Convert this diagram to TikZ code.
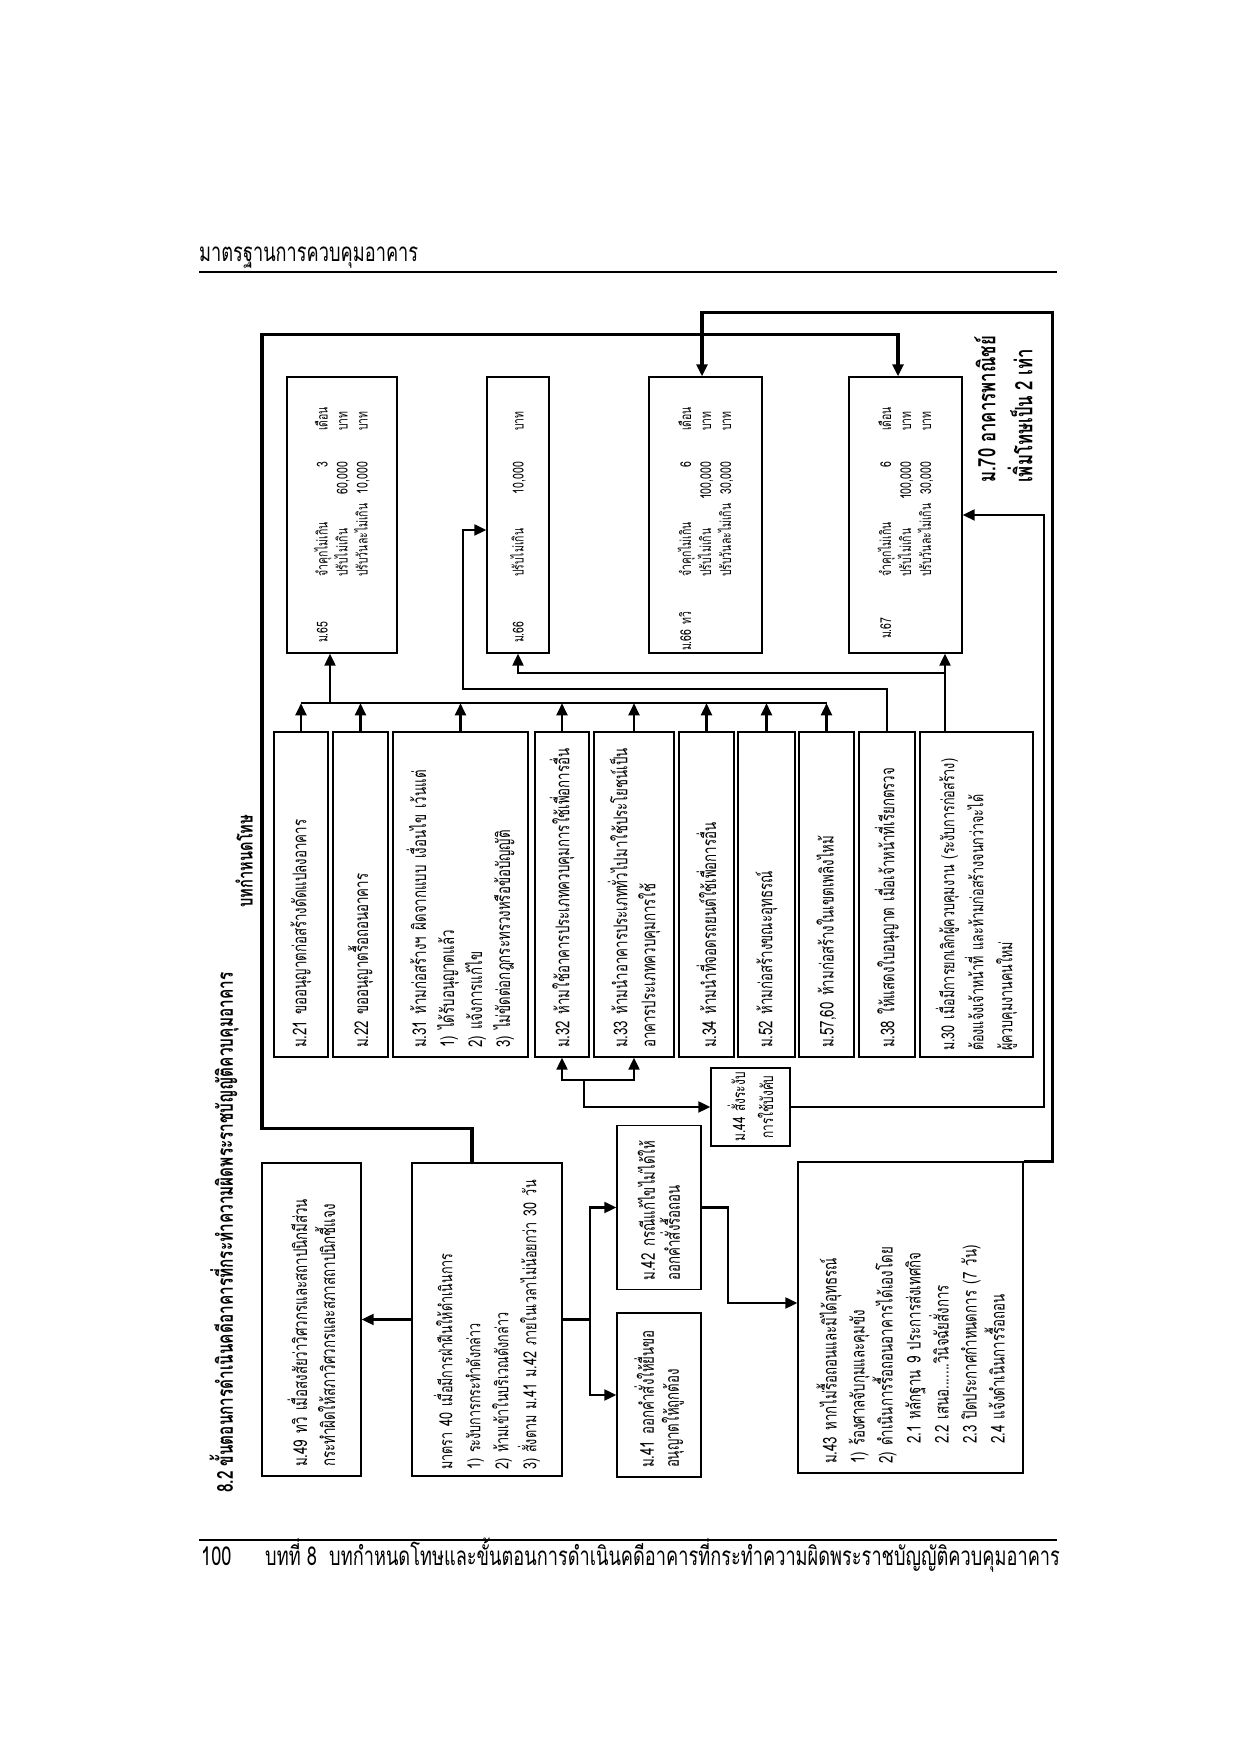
\documentclass[tikz,border=0pt]{standalone}
\usepackage{fontspec}
\setmainfont{Loma}[Script=Thai,FakeStretch=0.7]
\usetikzlibrary{arrows.meta,calc}

\newcommand{\boxfont}{\fontsize{19}{28}\selectfont}
\newcommand{\penfont}{\fontsize{15}{20}\selectfont}
\newcommand{\pagefont}{\fontsize{26}{30}\selectfont}
\newdimen\pcS \newdimen\pcA \newdimen\pcB \newdimen\pcC
\newcommand{\pencols}[4]{\noindent\pcS=#1pt\pcA=#2pt\pcB=#3pt\pcC=#4pt\relax}
\newcommand{\penrow}[4]{\hspace*{\pcS}\rlap{#1}\hspace*{\dimexpr\pcA-\pcS\relax}\rlap{#2}%
  \hspace*{\dimexpr\pcB-\pcA\relax}\llap{#3}\hspace*{\dimexpr\pcC-\pcB\relax}#4}

\begin{document}
\begin{tikzpicture}[x=1pt,y=1pt,
  box/.style={draw,line width=1.4pt,inner xsep=9pt,inner ysep=0pt,align=left,font=\boxfont},
  viol/.style={box,text width=307pt},
  pen/.style={box,inner xsep=2pt,text width=272pt,font=\penfont},
  arr/.style={line width=2.2pt,-{Triangle[length=12pt,width=11pt]}},
  link/.style={line width=2.2pt},
  frame/.style={line width=3.2pt}]
\useasboundingbox (0,0) rectangle (1240,1754);
\fill[white] (0,0) rectangle (1240,1754);

% page head and foot
\node[anchor=base west,inner sep=0,font=\pagefont] (hdr) at (199,1492) {มาตรฐานการควบคุมอาคาร};
\draw[line width=2.5pt] (199,1482) -- (1057,1482);
\draw[line width=2.5pt] (199,214) -- (1057,214);
\node[anchor=base west,inner sep=0,font=\pagefont] (pgno) at (201,188) {100};
\node[anchor=base west,inner sep=0,font=\pagefont] (foot) at (265,188) {บทที่ 8~~บทกำหนดโทษและขั้นตอนการดำเนินคดีอาคารที่กระทำความผิดพระราชบัญญัติควบคุมอาคาร};

% the chart is set sideways
\begin{scope}[shift={(1240,0)},rotate=90,transform shape]
\node[anchor=west,inner sep=0,font=\bfseries\fontsize{22}{26}\selectfont] (ttl) at (261,1016)
  {8.2 ขั้นตอนการดำเนินคดีอาคารที่กระทำความผิดพระราชบัญญัติควบคุมอาคาร};
\node[inner sep=0,font=\bfseries\fontsize{21}{26}\selectfont] (lbl) at (893,996) {บทกำหนดโทษ};

% orders
\node[box,text width=295pt,minimum height=99pt] (m49) at (434.5,928.5)
  {ม.49 ทวิ เมื่อสงสัยว่าวิศวกรและสถาปนิกมีส่วน\\กระทำผิดให้สภาวิศวกรและสภาสถาปนิกชี้แจง};
\node[box,inner xsep=6pt,text width=301pt,minimum height=150pt,font=\fontsize{18}{28}\selectfont] (m40) at (434.5,753)
  {มาตรา 40 เมื่อมีการฝ่าฝืนให้ดำเนินการ\\1) ระงับการกระทำดังกล่าว\\2) ห้ามเข้าในบริเวณดังกล่าว\\3) สั่งตาม ม.41 ม.42 ภายในเวลาไม่น้อยกว่า 30 วัน};
\node[box,text width=146pt,minimum height=84pt,font=\fontsize{19}{25}\selectfont] (m41) at (359,581)
  {ม.41 ออกคำสั่งให้ยื่นขอ\\อนุญาตให้ถูกต้อง};
\node[box,text width=146pt,minimum height=84pt,font=\fontsize{19}{25}\selectfont] (m42) at (546.5,581)
  {ม.42 กรณีแก้ไขไม่ได้ให้\\ออกคำสั่งรื้อถอน};
\node[box,text width=293pt,minimum height=225pt] (m43) at (436.5,329.5)
  {ม.43 หากไม่รื้อถอนและมิได้อุทธรณ์\\1) ร้องศาลจับกุมและคุมขัง\\2) ดำเนินการรื้อถอนอาคารได้เองโดย\\
   \hspace*{20pt}2.1 หลักฐาน 9 ประการส่งเทศกิจ\\\hspace*{20pt}2.2 เสนอ.......วินิจฉัยสั่งการ\\
   \hspace*{20pt}2.3 ปิดประกาศกำหนดการ (7 วัน)\\\hspace*{20pt}2.4 แจ้งดำเนินการรื้อถอน};
\node[box,align=center,inner xsep=1pt,text width=76pt,minimum height=79pt,font=\fontsize{17}{28}\selectfont] (m44) at (647,489.5)
  {ม.44 สั่งระงับ\\การใช้บังคับ};

% offences
\node[viol,minimum height=54pt] (m21) at (859.5,939) {ม.21 ขออนุญาตก่อสร้างดัดแปลงอาคาร};
\node[viol,minimum height=55pt] (m22) at (859.5,879.5) {ม.22 ขออนุญาตรื้อถอนอาคาร};
\node[viol,minimum height=135pt] (m31) at (859.5,779.5)
  {ม.31 ห้ามก่อสร้างฯ ผิดจากแบบ เงื่อนไข เว้นแต่\\1) ได้รับอนุญาตแล้ว\\2) แจ้งการแก้ไข\\3) ไม่ขัดต่อกฎกระทรวงหรือข้อบัญญัติ};
\node[viol,minimum height=54pt] (m32) at (859.5,678) {ม.32 ห้ามใช้อาคารประเภทควบคุมการใช้เพื่อการอื่น};
\node[viol,minimum height=80pt] (m33) at (859.5,606)
  {ม.33 ห้ามนำอาคารประเภททั่วไปมาใช้ประโยชน์เป็น\\อาคารประเภทควบคุมการใช้};
\node[viol,minimum height=55pt] (m34) at (859.5,533.5) {ม.34 ห้ามนำที่จอดรถยนต์ใช้เพื่อการอื่น};
\node[viol,minimum height=57pt] (m52) at (859.5,473.5) {ม.52 ห้ามก่อสร้างขณะอุทธรณ์};
\node[viol,minimum height=55pt] (m5760) at (859.5,413.5) {ม.57,60 ห้ามก่อสร้างในเขตเพลิงไหม้};
\node[viol,minimum height=56pt] (m38) at (859.5,353) {ม.38 ให้แสดงใบอนุญาต เมื่อเจ้าหน้าที่เรียกตรวจ};
\node[viol,inner xsep=6pt,text width=313pt,minimum height=113pt,font=\fontsize{18}{29}\selectfont] (m30) at (859.5,263.5)
  {ม.30 เมื่อมีการยกเลิกผู้ควบคุมงาน (ระงับการก่อสร้าง)\\ต้องแจ้งเจ้าหน้าที่ และห้ามก่อสร้างจนกว่าจะได้\\ผู้ควบคุมงานคนใหม่};

% penalties
\node[pen,minimum height=110pt] (m65) at (1239,898) {\pencols{8}{74}{189}{220}%
  \penrow{ม.65}{จำคุกไม่เกิน}{3}{เดือน}\\
  \penrow{}{ปรับไม่เกิน}{60,000}{บาท}\\
  \penrow{}{ปรับวันละไม่เกิน}{10,000}{บาท}};
\node[pen,minimum height=62pt] (m66) at (1239,722) {\pencols{8}{74}{189}{220}%
  \penrow{ม.66}{ปรับไม่เกิน}{10,000}{บาท}};
\node[pen,minimum height=113pt] (m66b) at (1239,534.5) {\pencols{0}{74}{189}{220}%
  \penrow{ม.66 ทวิ}{จำคุกไม่เกิน}{6}{เดือน}\\
  \penrow{}{ปรับไม่เกิน}{100,000}{บาท}\\
  \penrow{}{ปรับวันละไม่เกิน}{30,000}{บาท}};
\node[pen,minimum height=113pt] (m67) at (1239,334.5) {\pencols{12}{74}{189}{220}%
  \penrow{ม.67}{จำคุกไม่เกิน}{6}{เดือน}\\
  \penrow{}{ปรับไม่เกิน}{100,000}{บาท}\\
  \penrow{}{ปรับวันละไม่เกิน}{30,000}{บาท}};
\node[anchor=west,inner sep=0,align=left,font=\bfseries\fontsize{24}{37}\selectfont] (m70) at (1271,236.5)
  {ม.70 อาคารพาณิชย์\\เพิ่มโทษเป็น 2 เท่า};

% offences to penalties
\foreach \n in {m21,m22,m31,m32,m33,m34,m52,m5760}
  \draw[arr] (\n.east) -- ++(28,0);
\draw[link] (m21.east) ++(28,0) coordinate (b1) -- (m5760.east -| b1);
\draw[arr] (b1) ++(0,-29) coordinate (b2) -- (b2 -| m65.west);
\draw[arr] (m38.east) -- ++(42,0) -- ++(0,424) -| ($(m66.north)+(-15,0)$);
\draw[arr] ($(m30.east)+(0,31.5)$) coordinate (s30) -- (s30 -| m67.west);
\draw[arr] ($(s30)+(58,0)$) |- (m66.west);

% orders
\draw[arr] (m40.north) -- (m49.south);
\draw[link] (m40.south) -- ++(0,-27) coordinate (j40);
\draw[arr] (j40) -| (m41.north);
\draw[arr] (j40) -| (m42.north);
\draw[arr] (m42.south) -- ++(0,-26) -| ($(m43.north)+(14.5,0)$);
\coordinate (j44) at ($(m32.west)!0.3!(m33.west)+(-22,0)$);
\draw[arr] (j44) |- (m32.west);
\draw[arr] (j44) |- (m33.west);
\draw[arr] (j44) -- (m44.north |- j44) -- (m44.north);
\draw[arr] (m44.south) -- ++(0,-253) -| (m67.south);
\draw[frame,-{Triangle[length=12pt,width=11pt]}] ($(m40.east)+(0,15)$) -- ++(34,0) -- ++(0,210)
  -- ++(794,0) -- ++(0,-636) -- ($(m67.east)+(0,7.5)$);
\draw[frame,-{Triangle[length=12pt,width=11pt]}] (m43.south east) -- ++(0,-29) -- ++(849,0)
  |- ($(m66b.east)+(0,3.5)$);
\end{scope}
\end{tikzpicture}
\end{document}
